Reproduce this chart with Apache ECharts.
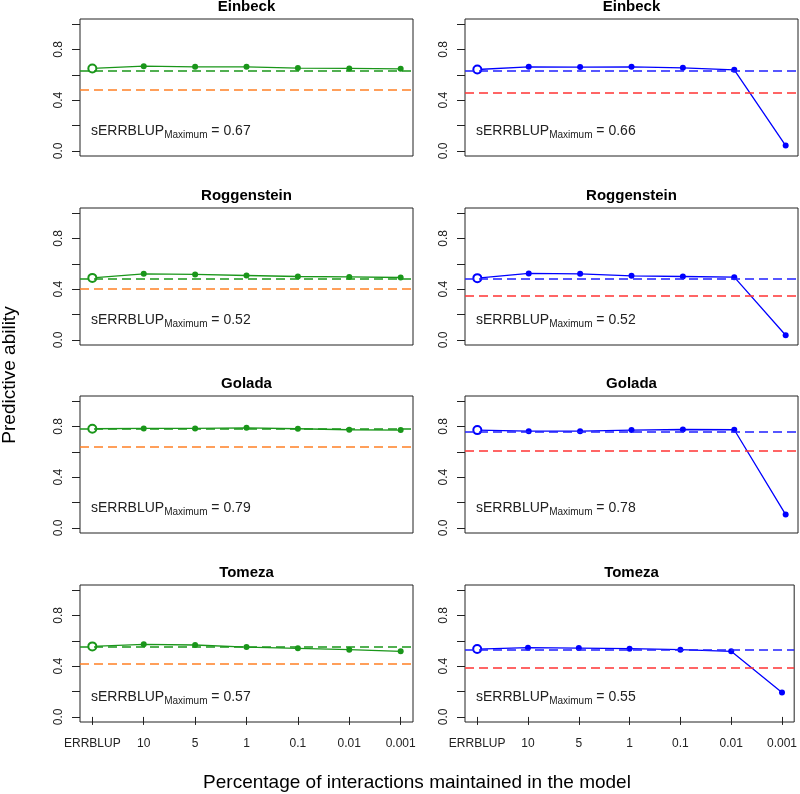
<!DOCTYPE html>
<html>
<head>
<meta charset="utf-8">
<title>Predictive ability</title>
<script src="https://cdn.jsdelivr.net/npm/echarts@6/dist/echarts.min.js"></script>
<style>
  html, body { margin: 0; padding: 0; background: #fff; }
  #chart { width: 800px; height: 794px; }
</style>
</head>
<body>
<div id="chart"></div>
<script>
var categories = ['ERRBLUP', '10', '5', '1', '0.1', '0.01', '0.001'];
var locations = ['Einbeck', 'Roggenstein', 'Golada', 'Tomeza'];

// left column (green), right column (blue)
var einbeckLeft = [0.650, 0.668, 0.663, 0.663, 0.653, 0.650, 0.647];
var roggensteinLeft = [0.489, 0.521, 0.516, 0.508, 0.500, 0.497, 0.492];
var goladaLeft = [0.782, 0.784, 0.784, 0.789, 0.782, 0.774, 0.771];
var tomezaLeft = [0.556, 0.572, 0.567, 0.551, 0.541, 0.530, 0.517];

var einbeckRight = [0.642, 0.663, 0.661, 0.663, 0.655, 0.639, 0.042];
var roggensteinRight = [0.487, 0.524, 0.521, 0.505, 0.500, 0.495, 0.037];
var goladaRight = [0.771, 0.763, 0.763, 0.771, 0.776, 0.774, 0.105];
var tomezaRight = [0.535, 0.546, 0.543, 0.538, 0.530, 0.517, 0.192];

// dashed reference lines
var leftBaseline = [0.632, 0.479, 0.776, 0.549];
var leftReference = [0.476, 0.395, 0.639, 0.417];
var rightBaseline = [0.632, 0.476, 0.758, 0.533];
var rightReference = [0.455, 0.355, 0.608, 0.391];

var leftMaxLabels = ['0.67', '0.52', '0.79', '0.57'];
var rightMaxLabels = ['0.66', '0.52', '0.78', '0.55'];

var yTicks = [0, 0.2, 0.4, 0.6, 0.8, 1.0];
var yLabels = [0, 0.4, 0.8];
var xTicks = [1, 2, 3, 4, 5, 6, 7];

var leftSeries = [einbeckLeft, roggensteinLeft, goladaLeft, tomezaLeft];
var rightSeries = [einbeckRight, roggensteinRight, goladaRight, tomezaRight];

var FONT = '"Liberation Sans", Arial, Helvetica, sans-serif';
var INK = '#222';
var colLeft = [80, 465];
var rowTop = [19, 208, 396, 585];
var panelW = 333, panelH = 137;

var columns = [
  { series: leftSeries, base: leftBaseline, ref: leftReference, labels: leftMaxLabels,
    line: '#1a961a', baseColor: '#1a961a', refColor: '#ff8025' },
  { series: rightSeries, base: rightBaseline, ref: rightReference, labels: rightMaxLabels,
    line: '#0000ff', baseColor: '#1f1fff', refColor: '#ff3333' }
];

var grids = [], xAxes = [], yAxes = [], series = [], graphics = [];

rowTop.forEach(function (top, r) {
  columns.forEach(function (col, c) {
    var k = grids.length;
    var bottomRow = r === rowTop.length - 1;
    grids.push({
      left: colLeft[c], top: top, width: panelW, height: panelH,
      show: true, borderColor: INK, borderWidth: 1, backgroundColor: 'transparent'
    });
    xAxes.push({
      type: 'value', gridIndex: k, min: 0.76, max: 7.24,
      splitLine: { show: false },
      axisLine: { show: false },
      axisTick: { show: bottomRow, length: 8, customValues: xTicks, lineStyle: { color: INK } },
      axisLabel: {
        show: bottomRow, customValues: xTicks, margin: 16,
        fontFamily: FONT, fontSize: 12, color: INK,
        formatter: function (v) { return categories[Math.round(v) - 1]; }
      }
    });
    yAxes.push({
      type: 'value', gridIndex: k, min: -0.04, max: 1.04,
      splitLine: { show: false },
      axisLine: { show: false },
      axisTick: { show: true, length: 8, customValues: yTicks, lineStyle: { color: INK } },
      axisLabel: {
        customValues: yLabels, rotate: 90, margin: 15,
        fontFamily: FONT, fontSize: 12, color: INK,
        formatter: function (v) { return v.toFixed(1); }
      }
    });
    var values = col.series[r];
    series.push({
      type: 'line', xAxisIndex: k, yAxisIndex: k,
      animation: false, silent: true,
      data: values.map(function (v, i) {
        return i === 0
          ? { value: [i + 1, v], symbol: 'emptyCircle', symbolSize: 8, itemStyle: { borderWidth: 1.5, borderColor: col.line } }
          : { value: [i + 1, v], symbol: 'circle', symbolSize: 6 };
      }),
      lineStyle: { color: col.line, width: 1.3 },
      itemStyle: { color: col.line },
      z: 3,
      markLine: {
        silent: true, symbol: 'none', animation: false,
        label: { show: false },
        data: [
          { yAxis: col.base[r], lineStyle: { color: col.baseColor, type: [9, 5], width: 1.5 } },
          { yAxis: col.ref[r], lineStyle: { color: col.refColor, type: [9, 5], width: 1.5 } }
        ]
      }
    });
    graphics.push({
      type: 'text', x: colLeft[c] + panelW / 2, y: top - 12,
      style: { text: locations[r], font: 'bold 15px ' + FONT, fill: '#000',
        textAlign: 'center', textVerticalAlign: 'middle' }
    });
    graphics.push({
      type: 'text', x: colLeft[c] + 11, y: top + 112,
      style: {
        text: '{m|sERRBLUP}{s|Maximum}{m| = ' + col.labels[r] + '}',
        textAlign: 'left', textVerticalAlign: 'middle',
        rich: {
          m: { fontFamily: FONT, fontSize: 14, lineHeight: 18, fill: INK },
          s: { fontFamily: FONT, fontSize: 10, lineHeight: 12, verticalAlign: 'bottom', fill: INK }
        }
      }
    });
  });
});

graphics.push({
  type: 'text', x: 417, y: 783,
  style: { text: 'Percentage of interactions maintained in the model', font: '19px ' + FONT,
    fill: '#000', textAlign: 'center', textVerticalAlign: 'middle' }
});
graphics.push({
  type: 'text', x: 10, y: 375, rotation: Math.PI / 2,
  style: { text: 'Predictive ability', font: '19px ' + FONT,
    fill: '#000', textAlign: 'center', textVerticalAlign: 'middle' }
});

var chart = echarts.init(document.getElementById('chart'));
chart.setOption({
  animation: false,
  backgroundColor: '#fff',
  grid: grids,
  xAxis: xAxes,
  yAxis: yAxes,
  series: series,
  graphic: graphics
});
</script>
</body>
</html>
